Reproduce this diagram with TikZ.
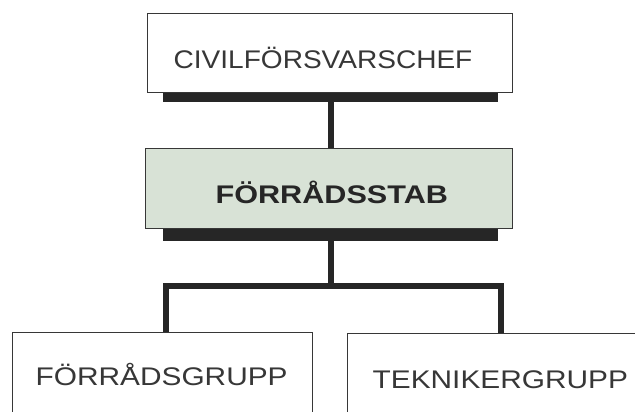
\documentclass[tikz,border=0pt]{standalone}
\usepackage{fontspec}
\setmainfont{Liberation Sans}
\definecolor{ink}{RGB}{55,55,55}
\definecolor{bar}{RGB}{38,38,38}
\definecolor{stabfill}{RGB}{216,226,214}
\newcommand{\lbl}[2]{\scalebox{#1}[1]{#2}}
\begin{document}
\begin{tikzpicture}[x=1pt,y=-1pt,
  box/.style={draw=ink, line width=1.3pt, inner sep=0pt, align=left,
    font=\fontsize{25.5}{26}\selectfont, text=ink},
  conn/.style={draw=bar, line width=6pt, line join=miter},
  shadowbar/.style={fill=bar}]
\useasboundingbox (0,0) rectangle (635,412);
\clip (0,0) rectangle (635,412);
\fill[white] (0,0) rectangle (635,412);
% boxes
\node[box, text width=365pt, text height=55pt, text depth=24pt, anchor=north west]
  (top) at (147,13) {\hspace*{26pt}\lbl{1.10}{CIVILFÖRSVARSCHEF}};
\node[box, fill=stabfill, text width=367pt, text height=55pt, text depth=25pt, anchor=north west,
  font=\fontsize{25.5}{26}\selectfont\bfseries, text=bar]
  (mid) at (145,148) {\hspace*{70pt}\lbl{1.20}{FÖRRÅDSSTAB}};
\node[box, text width=300pt, text height=53pt, text depth=45pt, anchor=north west]
  (lg) at (12,332) {\hspace*{23pt}\lbl{1.17}{FÖRRÅDSGRUPP}};
\node[box, text width=313pt, text height=55pt, text depth=42pt, anchor=north west]
  (rg) at (347,333) {\hspace*{25pt}\lbl{1.17}{TEKNIKERGRUPP}};
% shadows under upper boxes
\fill[shadowbar] ([xshift=16pt]top.south west) rectangle ([xshift=-15pt,yshift=-9pt]top.south east);
\fill[shadowbar] ([xshift=18pt]mid.south west) rectangle ([xshift=-15pt,yshift=-12pt]mid.south east);
% connectors
\coordinate (j) at (331,285.5);
\draw[conn] (top.south -| j) -- (mid.north -| j);
\draw[conn] (mid.south -| j) -- (j);
\draw[conn] ([xshift=3pt]lg.north) |- (j) -| ([xshift=-3.5pt]rg.north);
\end{tikzpicture}
\end{document}
